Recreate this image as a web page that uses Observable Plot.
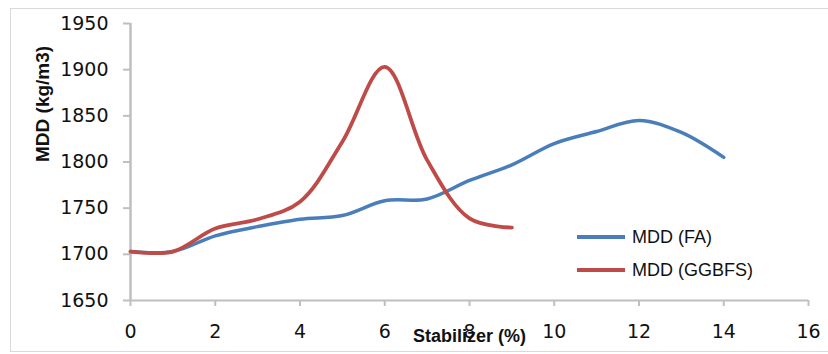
<!DOCTYPE html>
<html><head><meta charset="utf-8">
<script src="https://cdn.jsdelivr.net/npm/d3@7"></script>
<script src="https://cdn.jsdelivr.net/npm/@observablehq/plot@0.6"></script>
<style>
body{margin:0;background:#fff}
#wrap{position:relative;width:828px;height:354px;overflow:hidden;background:#fff}
#frame{position:absolute;left:10px;top:8px;width:840px;height:344px;border:1px solid #d9d9d9;box-sizing:border-box}
#chart{position:absolute;left:0;top:0}
.leg{position:absolute;left:577px;font:18px "Liberation Sans",Arial,sans-serif;color:#111;display:flex;align-items:center;height:20px}
.leg span.sw{display:inline-block;width:48px;height:4px;margin-right:7px}
</style></head>
<body>
<div id="wrap"><div id="frame"></div><div id="chart"></div>
<div class="leg" style="top:227px"><span class="sw" style="background:#4a7ebb"></span>MDD (FA)</div>
<div class="leg" style="top:260px"><span class="sw" style="background:#be4b48"></span>MDD (GGBFS)</div>
</div>
<script>
const stabilizerFA = [0,1,2,3,4,5,6,7,8,9,10,11,12,13,14];
const mddFA = [1703,1703,1720,1730,1738,1742,1758,1760,1780,1797,1820,1833,1845,1832,1805];
const stabilizerGGBFS = [0,1,2,3,4,5,6,7,8,9];
const mddGGBFS = [1703,1703,1728,1738,1757,1822,1903,1802,1739,1729];
const xTicks = [0,2,4,6,8,10,12,14,16];
const yTicks = [1650,1700,1750,1800,1850,1900,1950];

const fa = stabilizerFA.map((x,i)=>({x, y: mddFA[i]}));
const gg = stabilizerGGBFS.map((x,i)=>({x, y: mddGGBFS[i]}));

const chart = Plot.plot({
  width: 828, height: 354,
  marginLeft: 130, marginRight: 20, marginTop: 23, marginBottom: 54,
  style: {fontFamily: "DejaVu Sans", fontSize: "19px", color: "#111", background: "transparent"},
  x: {domain: [0,16]},
  y: {domain: [1650,1950]},
  marks: [
    Plot.axisX({ticks: xTicks, tickFormat: d => String(d), tickSize: 6, tickPadding: 18, stroke: "#bfbfbf", strokeWidth: 2, fill: "#111", fontSize: 19, label: null}),
    Plot.axisY({ticks: yTicks, tickFormat: d => String(d), tickSize: 7, tickPadding: 15, stroke: "#bfbfbf", strokeWidth: 2, fill: "#111", fontSize: 19, label: null}),
    Plot.ruleX([0], {stroke: "#bfbfbf", strokeWidth: 2.5}),
    Plot.ruleY([1650], {stroke: "#bfbfbf", strokeWidth: 2}),
    Plot.line(fa, {x: "x", y: "y", stroke: "#4a7ebb", strokeWidth: 3.5, curve: "catmull-rom"}),
    Plot.line(gg, {x: "x", y: "y", stroke: "#be4b48", strokeWidth: 3.8, curve: "catmull-rom"}),
    Plot.text(["Stabilizer (%)"], {text: d => d, frameAnchor: "bottom", dy: 41, fontWeight: "bold", fontFamily: "Liberation Sans", fontSize: 18, fill: "#111"}),
    Plot.text(["MDD (kg/m3)"], {text: d => d, frameAnchor: "left", dx: -88, rotate: -90, fontWeight: "bold", fontFamily: "Liberation Sans", fontSize: 19, fill: "#111"})
  ]
});
document.getElementById("chart").appendChild(chart);
</script>
</body></html>
